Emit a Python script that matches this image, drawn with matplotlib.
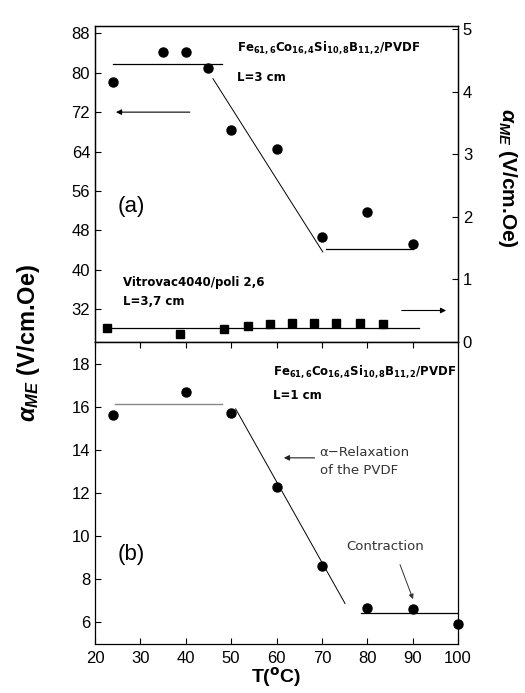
import matplotlib
matplotlib.use("Agg")
import matplotlib.pyplot as plt

plt.rcParams['font.family'] = ['Liberation Sans', 'DejaVu Sans']
plt.rcParams['mathtext.fontset'] = 'custom'
plt.rcParams['mathtext.rm'] = 'DejaVu Sans'
plt.rcParams['mathtext.it'] = 'Liberation Sans:italic'
plt.rcParams['mathtext.bf'] = 'DejaVu Sans:bold'
plt.rcParams['mathtext.bfit'] = 'Liberation Sans:bold:italic'

# (a) FeCoSiB/PVDF, L=3 cm (left axis)
t_a = [24, 35, 40, 45, 50, 60, 70, 80, 90]
alpha_a = [78.2, 84.3, 84.2, 81.0, 68.3, 64.6, 46.7, 51.8, 45.3]
# fitted guide lines for (a)
fit_a_flat1_t = [24, 48]
fit_a_flat1_y = [81.8, 81.8]
fit_a_slope_t = [46, 70.2]
fit_a_slope_y = [78.8, 43.6]
fit_a_flat2_t = [70.8, 90]
fit_a_flat2_y = [44.2, 44.2]

# (a) Vitrovac4040/poli 2,6, L=3,7 cm (right axis)
t_vit = [22.6, 38.7, 48.4, 53.7, 58.6, 63.4, 68.2, 73.1, 78.4, 83.4]
alpha_vit = [0.22, 0.13, 0.205, 0.26, 0.28, 0.30, 0.305, 0.305, 0.30, 0.28]
fit_vit_t = [23.3, 91.4]
fit_vit_y = [0.23, 0.23]

# (b) FeCoSiB/PVDF, L=1 cm
t_b = [24, 40, 50, 60, 70, 80, 90, 100]
alpha_b = [15.6, 16.7, 15.7, 12.3, 8.62, 6.68, 6.6, 5.95]
fit_b_flat1_t = [24.4, 48]
fit_b_flat1_y = [16.14, 16.14]
fit_b_slope_t = [51, 75.1]
fit_b_slope_y = [15.9, 6.88]
fit_b_flat2_t = [78.6, 100]
fit_b_flat2_y = [6.42, 6.42]

left_ticks_a = [32, 40, 48, 56, 64, 72, 80, 88]
right_ticks_a = [0, 1, 2, 3, 4, 5]
ticks_b = [6, 8, 10, 12, 14, 16, 18]
x_ticks = [20, 30, 40, 50, 60, 70, 80, 90, 100]

fig = plt.figure(figsize=(5.25, 6.93), dpi=100)
L, R = 95 / 525, 458 / 525
ax_a = fig.add_axes([L, 1 - 342 / 693, R - L, (342 - 26) / 693])
ax_b = fig.add_axes([L, 1 - 644 / 693, R - L, (644 - 342) / 693])
ax_r = ax_a.twinx()

fmt = 'Fe$_{\\mathbf{61,6}}$Co$_{\\mathbf{16,4}}$Si$_{\\mathbf{10,8}}$B$_{\\mathbf{11,2}}$/PVDF'
note = dict(fontsize=8.5, fontweight='bold', family='DejaVu Sans', va='center')
remark = dict(fontsize=9.5, family='DejaVu Sans', color='#333333', va='center')

# ---- panel (a)
ax_a.plot(t_a, alpha_a, 'o', color='black', ms=6.5)
ax_a.plot(fit_a_flat1_t, fit_a_flat1_y, '-', color='black', lw=0.9)
ax_a.plot(fit_a_slope_t, fit_a_slope_y, '-', color='black', lw=0.7)
ax_a.plot(fit_a_flat2_t, fit_a_flat2_y, '-', color='black', lw=0.9)
ax_r.plot(t_vit, alpha_vit, 's', color='black', ms=5.5)
ax_r.plot(fit_vit_t, fit_vit_y, '-', color='black', lw=0.9)

ax_a.set_xlim(20, 100)
ax_a.set_ylim(25.3, 89.5)
ax_r.set_ylim(0, 5.05)
ax_a.set_yticks(left_ticks_a)
ax_r.set_yticks(right_ticks_a)
ax_a.set_xticks([])
ax_a.tick_params(axis='y', direction='in', length=4, width=0.8, labelsize=12)
ax_r.tick_params(axis='y', direction='in', length=4, width=0.8, labelsize=12)

ax_a.annotate('', xy=(24, 72), xytext=(41.5, 72),
              arrowprops=dict(arrowstyle='-|>', lw=0.8, color='black', mutation_scale=8))
ax_a.annotate('', xy=(98, 31.7), xytext=(87, 31.7),
              arrowprops=dict(arrowstyle='-|>', lw=0.8, color='black', mutation_scale=8))

ax_a.text(51.4, 85.0, fmt, **note)
ax_a.text(51.4, 79.0, 'L=3 cm', **note)
ax_a.text(26.2, 37.3, 'Vitrovac4040/poli 2,6', **note)
ax_a.text(26.2, 33.6, 'L=3,7 cm', **note)
ax_a.text(25, 52.9, '(a)', fontsize=16, va='center')

# ---- panel (b)
ax_b.plot(t_b, alpha_b, 'o', color='black', ms=6.5, clip_on=False, zorder=5)
ax_b.plot(fit_b_flat1_t, fit_b_flat1_y, '-', color='#888888', lw=1.0)
ax_b.plot(fit_b_slope_t, fit_b_slope_y, '-', color='black', lw=0.7)
ax_b.plot(fit_b_flat2_t, fit_b_flat2_y, '-', color='black', lw=0.9)

ax_b.set_xlim(20, 100)
ax_b.set_ylim(5, 19)
ax_b.set_yticks(ticks_b)
ax_b.set_xticks(x_ticks)
ax_b.tick_params(axis='both', direction='in', length=4, width=0.8, labelsize=12)
ax_b.tick_params(axis='x', top=True, pad=5)
ax_b.set_xlabel('T($^{\\mathbf{o}}$C)', fontsize=14, fontweight='bold', labelpad=0)

ax_b.annotate('', xy=(61, 13.63), xytext=(69, 13.63),
              arrowprops=dict(arrowstyle='-|>', lw=0.8, color='#222222', mutation_scale=8))
ax_b.annotate('', xy=(90.3, 6.96), xytext=(87, 8.8),
              arrowprops=dict(arrowstyle='-|>', lw=0.7, color='#333333', mutation_scale=7))

ax_b.text(59.3, 17.63, fmt, **note)
ax_b.text(59.3, 16.5, 'L=1 cm', **note)
ax_b.text(69.5, 13.88, '\u03b1\u2212Relaxation', **remark)
ax_b.text(69.5, 13.03, 'of the PVDF', **remark)
ax_b.text(75.4, 9.54, 'Contraction', **remark)
ax_b.text(25, 9.13, '(b)', fontsize=16, va='center')

for ax in (ax_a, ax_b, ax_r):
    for s in ax.spines.values():
        s.set_linewidth(0.9)

ylab = '$\\mathbfit{\\alpha}_{\\mathbfit{ME}}$ (V/cm.Oe)'
fig.text(29 / 525, 1 - 343 / 693, ylab, rotation=90, fontsize=17, fontweight='bold',
         ha='center', va='center')
fig.text(508 / 525, 1 - 178 / 693, ylab, rotation=270, fontsize=15, fontweight='bold',
         ha='center', va='center')

fig.savefig('out.png', dpi=100)
